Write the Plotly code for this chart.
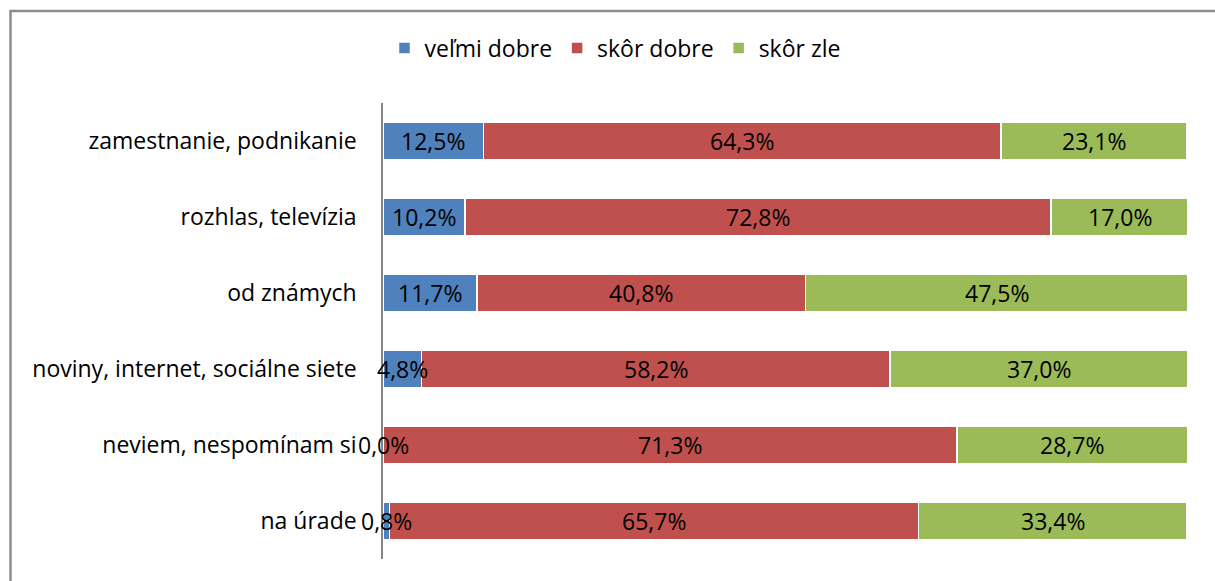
import plotly.graph_objects as go

categories = ["zamestnanie, podnikanie", "rozhlas, televízia", "od známych",
              "noviny, internet, sociálne siete", "neviem, nespomínam si", "na úrade"]
series_names = ["veľmi dobre", "skôr dobre", "skôr zle"]
velmi_dobre = [12.5, 10.2, 11.7, 4.8, 0.0, 0.8]
skor_dobre = [64.3, 72.8, 40.8, 58.2, 71.3, 65.7]
skor_zle = [23.1, 17.0, 47.5, 37.0, 28.7, 33.4]
colors = ["#4F81BD", "#C0504D", "#9BBB59"]

FONT = "Open Sans"
FS = 23
W, H = 1215, 581
L, R, T, B = 383, 27, 103, 22
pw, ph = W - L - R, H - T - B

def px2x(px):
    return (px - L) / pw

def py2y(py):
    return (H - B - py) / ph

fig = go.Figure()
all_series = [velmi_dobre, skor_dobre, skor_zle]
for name, vals, col in zip(series_names, all_series, colors):
    fig.add_trace(go.Bar(
        y=categories, x=vals, name=name, orientation="h",
        marker=dict(color=col, line=dict(color="white", width=1.5)),
        hoverinfo="x+name",
    ))

annotations = []
for i, cat in enumerate(categories):
    base = 0
    for vals in all_series:
        v = vals[i]
        annotations.append(dict(
            x=base + v / 2, y=cat, xref="x", yref="y",
            text=f"{v:.1f}%".replace(".", ","), showarrow=False,
            font=dict(family=FONT, size=FS, color="black"),
        ))
        base += v

fig.update_layout(
    barmode="stack", bargap=0.5,
    width=W, height=H,
    margin=dict(l=L, r=R, t=T, b=B),
    paper_bgcolor="white", plot_bgcolor="white",
    font=dict(family=FONT, size=FS, color="black"),
    xaxis=dict(range=[0, 100], visible=False, fixedrange=True),
    yaxis=dict(autorange="reversed", showline=True, linecolor="#868686", linewidth=1.5,
               ticks="", showgrid=False, ticklabelstandoff=20,
               tickfont=dict(family=FONT, size=FS, color="black")),
    legend=dict(orientation="h", x=px2x(615), y=py2y(48), xanchor="center", yanchor="middle",
                font=dict(family=FONT, size=FS), itemwidth=30, traceorder="normal"),
    annotations=annotations,
    shapes=[dict(type="rect", xref="paper", yref="paper",
                 x0=px2x(10.5), x1=px2x(1235), y0=py2y(600), y1=py2y(11),
                 line=dict(color="#8c8c8c", width=2.5), layer="below")],
)

fig.write_html("out.html", config={"displayModeBar": False},
               post_script="document.body.style.margin='0';document.body.style.overflow='hidden';")
